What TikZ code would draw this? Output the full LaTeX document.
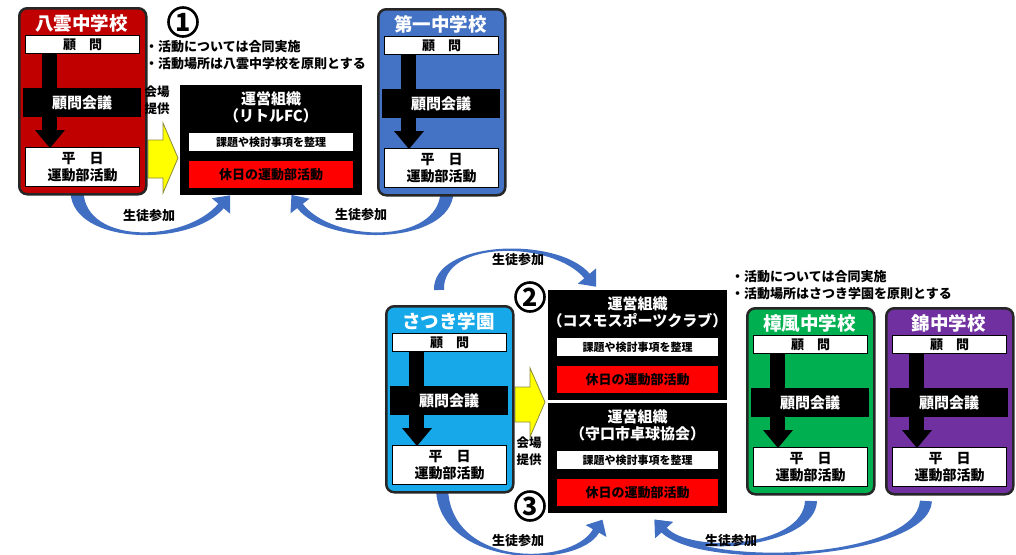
\documentclass[tikz,border=0pt]{standalone}
\usepackage{fontspec}
\setmainfont{Noto Sans CJK JP}
\usetikzlibrary{calc}
\definecolor{yred}{RGB}{192,0,0}
\definecolor{dblue}{RGB}{68,114,196}
\definecolor{lblue}{RGB}{22,168,232}
\definecolor{sgreen}{RGB}{0,176,80}
\definecolor{npurple}{RGB}{112,48,160}
\definecolor{arrblue}{RGB}{64,110,194}
\definecolor{brightred}{RGB}{255,0,0}
\definecolor{yfill}{RGB}{255,255,0}
\definecolor{yline}{RGB}{140,140,60}

\tikzset{
  schoolbox/.style={draw=black!85, line width=2.5pt, rounded corners=8pt, anchor=north west, minimum width=127pt, minimum height=186pt, inner sep=0pt},
  titletext/.style={text=white, font=\bfseries\fontsize{18.5}{18.5}\selectfont, inner sep=0pt},
  whitebox/.style={draw=black, line width=1pt, fill=white, anchor=north west, minimum width=114pt, inner sep=0pt, align=center},
  bandbox/.style={fill=black, text=white, anchor=north west, minimum width=118pt, minimum height=29pt, inner sep=0pt, font=\bfseries\fontsize{15}{15}\selectfont},
  orgbox/.style={fill=black, anchor=north west, minimum height=110pt, inner sep=0pt},
  orgtitle/.style={text=white, inner sep=0pt, font=\bfseries\fontsize{15}{15}\selectfont},
  orgwhite/.style={fill=white, anchor=north west, minimum height=18pt, inner sep=0pt, font=\bfseries\fontsize{11}{11}\selectfont},
  orgred/.style={fill=brightred, anchor=north west, minimum height=27pt, inner sep=0pt, font=\bfseries\fontsize{13}{13}\selectfont},
  yarrow/.style={fill=yfill, draw=yline, line width=0.8pt},
  notetext/.style={anchor=west, inner sep=0pt, align=left, font=\bfseries\fontsize{13}{17}\selectfont},
  lbl/.style={inner sep=0pt, font=\bfseries\fontsize{13}{13}\selectfont},
  venue/.style={inner sep=0pt, align=center, font=\bfseries\fontsize{12.5}{17}\selectfont},
  circnum/.style={circle, draw=black, fill=white, line width=2.6pt, minimum size=29pt, inner sep=0pt, font=\bfseries\fontsize{25}{25}\selectfont},
}

\newcommand\schoolunit[5]{%
  \node[schoolbox, fill=#4] (#1) at (#2,#3) {};
  \node[titletext] (#1-title) at ({#2+63.5},{#3+16}) {#5};
  \fill[black] ({#2+24},{#3+44}) rectangle ({#2+39},{#3+124});
  \node[whitebox, minimum height=18pt, font=\bfseries\fontsize{13}{13}\selectfont] (#1-adv) at ({#2+7},{#3+28}) {顧　問};
  \node[bandbox] (#1-band) at ({#2+5},{#3+81}) {顧問会議};
  \fill[black] ({#2+17},{#3+123}) -- ({#2+47},{#3+123}) -- ({#2+32},{#3+141}) -- cycle;
  \node[whitebox, minimum height=39pt, font=\bfseries\fontsize{14}{17}\selectfont] (#1-day) at ({#2+7},{#3+140}) {平　日\\運動部活動};
}

\newcommand\orgunit[6]{%
  \node[orgbox, minimum width=#4pt] (#1) at (#2,#3) {};
  \node[orgtitle] (#1-a) at ({#2+#4/2},{#3+14}) {運営組織};
  \node[orgtitle] (#1-b) at ({#2+#4/2},{#3+31}) {#6};
  \node[orgwhite, minimum width=#5pt] (#1-c) at ({#2+9},{#3+48}) {課題や検討事項を整理};
  \node[orgred, minimum width=#5pt] (#1-d) at ({#2+9},{#3+76}) {休日の運動部活動};
}

% tapered curved arrow: #1..#4 centre-line points, #5 tail half width, #6 end half width, #7 head half width, #8 head length
\newcommand\bluearrow[8]{%
  \coordinate (ba0) at #1;
  \coordinate (ba1) at #2;
  \coordinate (ba2) at #3;
  \coordinate (ba3) at #4;
  \coordinate (bo0) at ($(ba0)!#5!90:(ba1)$);
  \coordinate (bi0) at ($(ba0)!#5!-90:(ba1)$);
  \coordinate (bo1) at ($(ba1)+(bo0)-(ba0)$);
  \coordinate (bi1) at ($(ba1)+(bi0)-(ba0)$);
  \coordinate (bo3) at ($(ba3)!#6!-90:(ba2)$);
  \coordinate (bi3) at ($(ba3)!#6!90:(ba2)$);
  \coordinate (bo2) at ($(ba2)+(bo3)-(ba3)$);
  \coordinate (bi2) at ($(ba2)+(bi3)-(ba3)$);
  \coordinate (bh1) at ($(ba3)!#7!-90:(ba2)$);
  \coordinate (bh2) at ($(ba3)!#7!90:(ba2)$);
  \coordinate (bt) at ($(ba3)!-#8!(ba2)$);
  \fill[arrblue] (bo0) .. controls (bo1) and (bo2) .. (bo3) -- (bh1) -- (bt) -- (bh2) -- (bi3) .. controls (bi2) and (bi1) .. (bi0) -- cycle;
}

\begin{document}
\begin{tikzpicture}[x=1pt, y=-1pt]
\useasboundingbox (0,0) rectangle (1016,554);
\clip (0,0) rectangle (1016,554);

% ---- curved blue arrows (生徒参加) ----
\bluearrow{(77,192)}{(79,245)}{(188,245)}{(221,206)}{6.5pt}{3.5pt}{12pt}{14pt}
\bluearrow{(447,192)}{(445,245)}{(330,245)}{(300,206)}{6.5pt}{3.5pt}{12pt}{14pt}
\bluearrow{(439,290)}{(437,240)}{(555,238)}{(587,276)}{5pt}{3.5pt}{12pt}{14pt}
\bluearrow{(442,489)}{(445,568)}{(575,568)}{(596,531)}{6pt}{3.5pt}{12pt}{13pt}
\bluearrow{(926,501)}{(922,560)}{(700,570)}{(664,530)}{6pt}{3pt}{12pt}{14pt}
\bluearrow{(811,501)}{(809,548)}{(688,556)}{(664,530)}{6pt}{3.5pt}{12pt}{14pt}

% ---- yellow arrows (会場提供) ----
\draw[yarrow] (148,140) -- (163,140) -- (163,123) -- (178,158) -- (163,193) -- (163,178) -- (148,178) -- cycle;
\draw[yarrow] (515,387) -- (530,387) -- (530,368) -- (545,402) -- (530,437) -- (530,422) -- (515,422) -- cycle;

% ---- schools ----
\schoolunit{yakumo}{18}{7}{yred}{八雲中学校}
\schoolunit{daiichi}{377}{8}{dblue}{第一中学校}
\schoolunit{satsuki}{385}{305}{lblue}{さつき学園}
\schoolunit{shofu}{746}{307}{sgreen}{樟風中学校}
\schoolunit{nishiki}{885}{307}{npurple}{錦中学校}

% ---- organisations ----
\orgunit{org1}{180}{85}{182}{164}{（リトルFC）}
\orgunit{org2}{548}{290}{179}{161}{（コスモスポーツクラブ）}
\orgunit{org3}{548}{403}{179}{161}{（守口市卓球協会）}

% ---- circled numbers ----
\node[circnum] (c1) at (183,22) {1};
\node[circnum] (c2) at (530,297) {2};
\node[circnum] (c3) at (530,506) {3};

% ---- notes ----
\node[notetext] (note1) at (145,55.5) {・活動については合同実施\\・活動場所は八雲中学校を原則とする};
\node[notetext] (note2) at (731,285.5) {・活動については合同実施\\・活動場所はさつき学園を原則とする};

\node[venue] (v1) at (157,100.5) {会場\\提供};
\node[venue] (v2) at (529,451) {会場\\提供};

\node[lbl] (l1) at (149,216) {生徒参加};
\node[lbl] (l2) at (361,215) {生徒参加};
\node[lbl] (l3) at (518,260) {生徒参加};
\node[lbl] (l4) at (518,541) {生徒参加};
\node[lbl] (l5) at (731,541) {生徒参加};
\end{tikzpicture}
\end{document}
